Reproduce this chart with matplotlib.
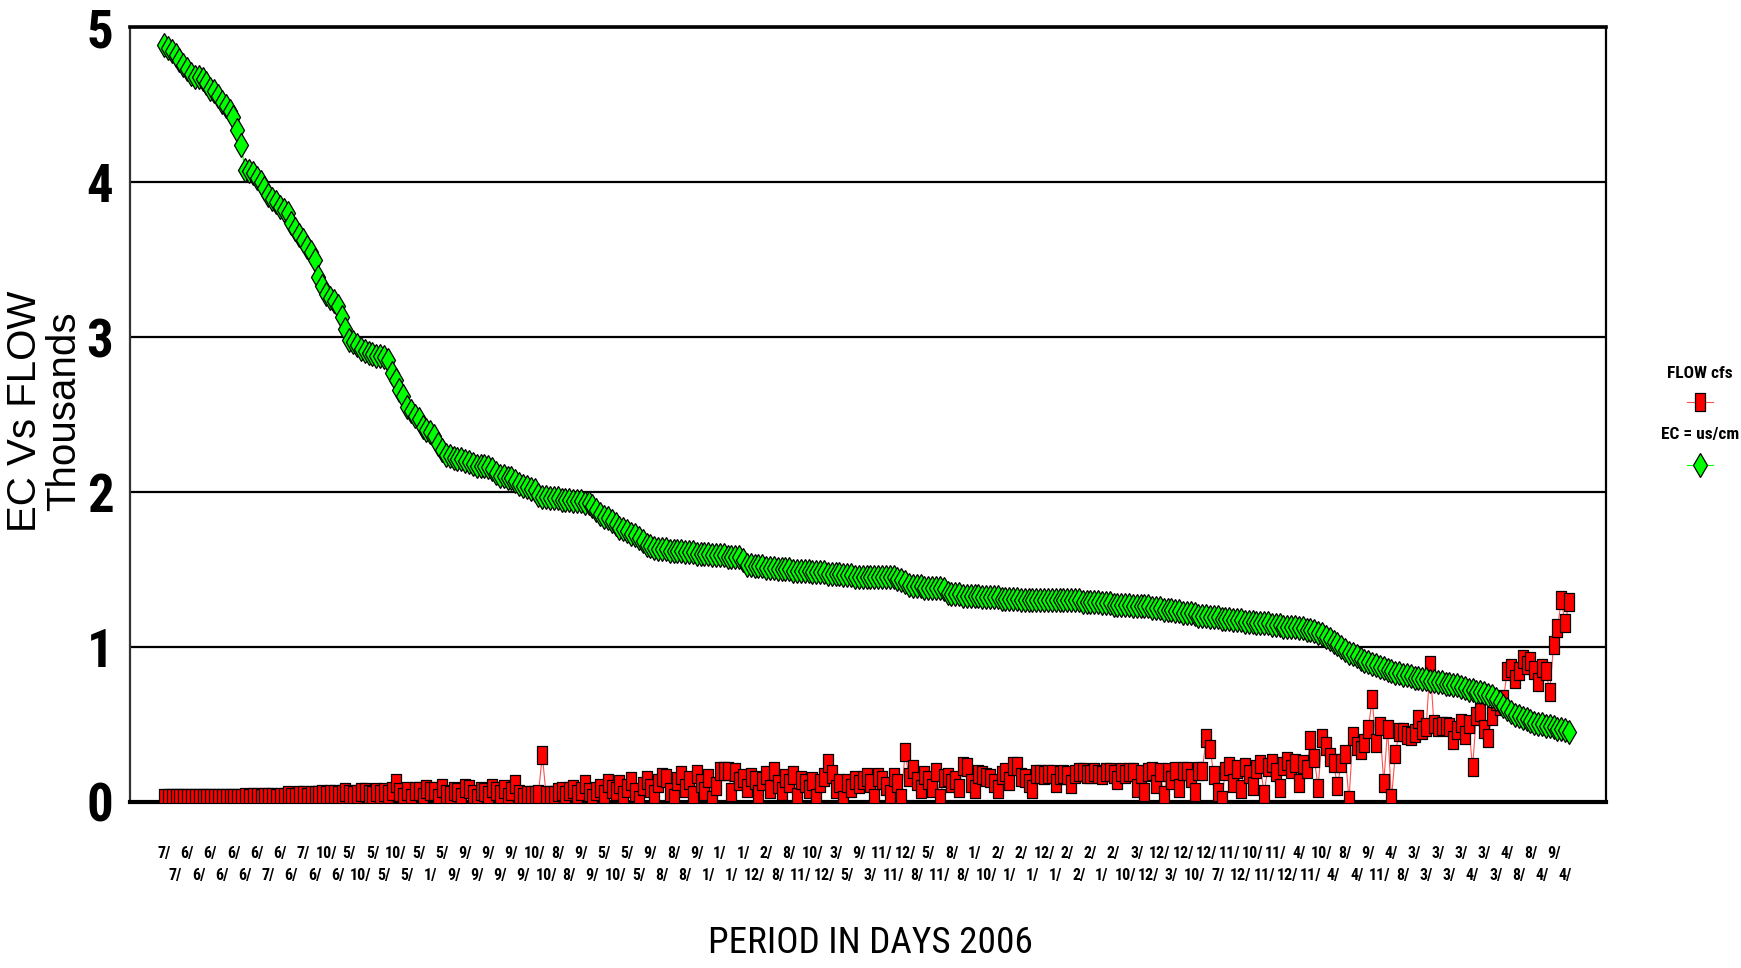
import matplotlib
matplotlib.use("Agg")
import matplotlib.pyplot as plt
from matplotlib import font_manager
from matplotlib.path import Path
from matplotlib.lines import Line2D

# EC (us/cm, thousands), sorted high to low as in the sheet
ec = [4.89, 4.87, 4.85, 4.82, 4.79, 4.76, 4.73, 4.70, 4.68, 4.68,
      4.67, 4.64, 4.60, 4.59, 4.56, 4.52, 4.49, 4.46, 4.42, 4.34,
      4.24, 4.08, 4.07, 4.06, 4.03, 4.00, 3.96, 3.92, 3.89, 3.87,
      3.84, 3.82, 3.80, 3.74, 3.70, 3.66, 3.63, 3.58, 3.55, 3.50,
      3.39, 3.33, 3.28, 3.25, 3.23, 3.20, 3.13, 3.05, 2.98, 2.97,
      2.95, 2.92, 2.91, 2.90, 2.89, 2.88, 2.88, 2.87, 2.85, 2.77,
      2.72, 2.66, 2.62, 2.55, 2.52, 2.49, 2.47, 2.42, 2.40, 2.39,
      2.36, 2.31, 2.27, 2.24, 2.23, 2.22, 2.21, 2.21, 2.20, 2.19,
      2.18, 2.17, 2.17, 2.17, 2.16, 2.15, 2.12, 2.10, 2.10, 2.09,
      2.09, 2.07, 2.05, 2.04, 2.03, 2.02, 2.01, 1.98, 1.97, 1.97,
      1.96, 1.96, 1.96, 1.95, 1.95, 1.95, 1.94, 1.94, 1.94, 1.93,
      1.93, 1.91, 1.88, 1.86, 1.84, 1.83, 1.81, 1.79, 1.77, 1.76,
      1.75, 1.73, 1.72, 1.70, 1.68, 1.66, 1.65, 1.64, 1.63, 1.63,
      1.63, 1.62, 1.62, 1.62, 1.62, 1.61, 1.61, 1.61, 1.60, 1.60,
      1.60, 1.60, 1.59, 1.59, 1.59, 1.59, 1.58, 1.58, 1.58, 1.58,
      1.56, 1.53, 1.53, 1.52, 1.52, 1.52, 1.51, 1.51, 1.51, 1.50,
      1.50, 1.50, 1.50, 1.49, 1.49, 1.49, 1.49, 1.49, 1.48, 1.48,
      1.48, 1.48, 1.47, 1.47, 1.47, 1.47, 1.46, 1.46, 1.46, 1.45,
      1.45, 1.45, 1.45, 1.45, 1.45, 1.45, 1.45, 1.45, 1.45, 1.45,
      1.44, 1.43, 1.42, 1.40, 1.39, 1.39, 1.39, 1.38, 1.38, 1.38,
      1.38, 1.38, 1.37, 1.35, 1.34, 1.34, 1.34, 1.33, 1.33, 1.33,
      1.33, 1.33, 1.32, 1.32, 1.32, 1.32, 1.32, 1.31, 1.31, 1.31,
      1.31, 1.31, 1.30, 1.30, 1.30, 1.30, 1.30, 1.30, 1.30, 1.30,
      1.30, 1.30, 1.30, 1.30, 1.30, 1.30, 1.30, 1.30, 1.29, 1.29,
      1.29, 1.29, 1.29, 1.28, 1.28, 1.28, 1.27, 1.27, 1.27, 1.27,
      1.27, 1.26, 1.26, 1.26, 1.26, 1.26, 1.25, 1.25, 1.25, 1.24,
      1.24, 1.24, 1.23, 1.23, 1.22, 1.22, 1.22, 1.21, 1.20, 1.20,
      1.20, 1.19, 1.19, 1.19, 1.18, 1.18, 1.18, 1.17, 1.17, 1.17,
      1.16, 1.16, 1.16, 1.15, 1.15, 1.15, 1.15, 1.14, 1.14, 1.14,
      1.13, 1.13, 1.13, 1.13, 1.12, 1.12, 1.11, 1.11, 1.10, 1.09,
      1.08, 1.06, 1.05, 1.03, 1.02, 1.00, 0.98, 0.96, 0.95, 0.94,
      0.92, 0.91, 0.90, 0.89, 0.88, 0.87, 0.86, 0.85, 0.84, 0.83,
      0.83, 0.82, 0.82, 0.81, 0.80, 0.80, 0.79, 0.79, 0.78, 0.78,
      0.77, 0.77, 0.76, 0.76, 0.75, 0.75, 0.74, 0.73, 0.72, 0.72,
      0.71, 0.71, 0.70, 0.69, 0.68, 0.66, 0.64, 0.62, 0.60, 0.58,
      0.56, 0.55, 0.54, 0.53, 0.52, 0.51, 0.50, 0.50, 0.49, 0.49,
      0.48, 0.47, 0.47, 0.46, 0.45]

# FLOW (cfs, thousands), same days
flow = [0.02, 0.02, 0.02, 0.02, 0.02, 0.02, 0.02, 0.02, 0.02, 0.02,
        0.02, 0.02, 0.02, 0.02, 0.02, 0.02, 0.02, 0.02, 0.02, 0.02,
        0.02, 0.03, 0.02, 0.03, 0.03, 0.02, 0.03, 0.03, 0.03, 0.02,
        0.03, 0.03, 0.04, 0.03, 0.03, 0.04, 0.04, 0.03, 0.04, 0.04,
        0.04, 0.05, 0.04, 0.05, 0.05, 0.04, 0.05, 0.06, 0.05, 0.04,
        0.05, 0.06, 0.06, 0.05, 0.04, 0.06, 0.05, 0.06, 0.05, 0.07,
        0.12, 0.06, 0.03, 0.07, 0.02, 0.07, 0.07, 0.03, 0.08, 0.07,
        0.07, 0.02, 0.09, 0.05, 0.04, 0.07, 0.06, 0.03, 0.09, 0.08,
        0.05, 0.02, 0.07, 0.06, 0.04, 0.09, 0.07, 0.05, 0.08, 0.03,
        0.07, 0.11, 0.05, 0.03, 0.04, 0.04, 0.04, 0.05, 0.30, 0.04,
        0.04, 0.04, 0.06, 0.07, 0.04, 0.07, 0.08, 0.05, 0.07, 0.11,
        0.06, 0.02, 0.07, 0.09, 0.05, 0.12, 0.08, 0.07, 0.11, 0.04,
        0.09, 0.13, 0.06, 0.01, 0.10, 0.14, 0.09, 0.05, 0.12, 0.16,
        0.15, 0.06, 0.02, 0.13, 0.17, 0.09, 0.14, 0.04, 0.18, 0.12,
        0.07, 0.15, 0.01, 0.10, 0.20, 0.20, 0.20, 0.06, 0.19, 0.13,
        0.15, 0.09, 0.16, 0.14, 0.05, 0.13, 0.17, 0.08, 0.20, 0.11,
        0.07, 0.15, 0.12, 0.17, 0.03, 0.14, 0.12, 0.08, 0.13, 0.02,
        0.12, 0.16, 0.25, 0.18, 0.08, 0.12, 0.01, 0.12, 0.09, 0.14,
        0.11, 0.14, 0.16, 0.12, 0.02, 0.16, 0.14, 0.10, 0.05, 0.16,
        0.12, 0.02, 0.32, 0.16, 0.21, 0.13, 0.08, 0.17, 0.14, 0.09,
        0.19, 0.02, 0.15, 0.16, 0.12, 0.14, 0.09, 0.23, 0.22, 0.12,
        0.08, 0.18, 0.17, 0.16, 0.15, 0.12, 0.08, 0.17, 0.19, 0.13,
        0.23, 0.23, 0.16, 0.15, 0.12, 0.08, 0.18, 0.18, 0.17, 0.18,
        0.18, 0.12, 0.17, 0.18, 0.17, 0.11, 0.18, 0.19, 0.19, 0.18,
        0.18, 0.19, 0.18, 0.17, 0.19, 0.19, 0.18, 0.14, 0.19, 0.18,
        0.19, 0.19, 0.09, 0.18, 0.06, 0.19, 0.20, 0.11, 0.19, 0.04,
        0.19, 0.14, 0.20, 0.09, 0.20, 0.20, 0.15, 0.06, 0.20, 0.20,
        0.41, 0.34, 0.17, 0.06, 0.01, 0.20, 0.23, 0.12, 0.21, 0.08,
        0.22, 0.18, 0.10, 0.21, 0.24, 0.05, 0.22, 0.25, 0.19, 0.09,
        0.23, 0.26, 0.21, 0.25, 0.12, 0.24, 0.21, 0.40, 0.28, 0.09,
        0.41, 0.36, 0.29, 0.25, 0.10, 0.25, 0.31, 0.01, 0.42, 0.36,
        0.33, 0.38, 0.47, 0.66, 0.38, 0.49, 0.12, 0.47, 0.02, 0.31,
        0.45, 0.45, 0.43, 0.42, 0.44, 0.53, 0.46, 0.48, 0.88, 0.50,
        0.48, 0.49, 0.49, 0.48, 0.40, 0.46, 0.51, 0.43, 0.50, 0.22,
        0.55, 0.58, 0.47, 0.41, 0.55, 0.65, 0.62, 0.66, 0.84, 0.86,
        0.79, 0.84, 0.92, 0.88, 0.91, 0.85, 0.77, 0.86, 0.84, 0.71,
        1.01, 1.12, 1.30, 1.15, 1.29]

# category labels shown every 3rd day, alternating two rows
top_labels = ["7/", "6/", "6/", "6/", "6/", "6/", "7/", "10/", "5/", "5/",
              "10/", "5/", "5/", "9/", "9/", "9/", "10/", "8/", "9/", "5/",
              "5/", "9/", "8/", "9/", "1/", "1/", "2/", "8/", "10/", "3/",
              "9/", "11/", "12/", "5/", "8/", "1/", "2/", "2/", "12/", "2/",
              "2/", "2/", "3/", "12/", "12/", "12/", "11/", "10/", "11/", "4/",
              "10/", "8/", "9/", "4/", "3/", "3/", "3/", "3/", "4/", "8/", "9/"]
bottom_labels = ["7/", "6/", "6/", "6/", "7/", "6/", "6/", "6/", "10/", "5/",
                 "5/", "1/", "9/", "9/", "9/", "9/", "10/", "8/", "9/", "10/",
                 "5/", "8/", "8/", "1/", "1/", "12/", "8/", "11/", "12/", "5/",
                 "3/", "11/", "8/", "11/", "8/", "10/", "1/", "1/", "1/", "2/",
                 "1/", "10/", "12/", "3/", "10/", "7/", "12/", "11/", "12/", "11/",
                 "4/", "4/", "11/", "8/", "3/", "3/", "4/", "3/", "8/", "4/", "4/"]

# look for a narrow sans face (the sheet uses Arial Narrow)
narrow_family, narrow_stretch = "Liberation Sans", "normal"
for want in ["Liberation Sans Narrow", "Arial Narrow", "Roboto Condensed",
             "Open Sans Condensed", "DejaVu Sans", "Noto Sans", "Open Sans", "Roboto"]:
    hits = [f for f in font_manager.fontManager.ttflist if f.name == want and
            (f.stretch != "normal" or "Narrow" in f.name or "Condensed" in f.name)]
    if hits:
        narrow_family, narrow_stretch = want, hits[0].stretch
        break
squeeze = 1.0 if narrow_stretch != "normal" else 0.8

nar = dict(family=[narrow_family, "DejaVu Sans"], fontstretch=narrow_stretch)
plain = ["Liberation Sans", "DejaVu Sans"]

days = list(range(len(ec)))

fig = plt.figure(figsize=(17.41, 9.68), dpi=100)
ax = fig.add_axes([0.0747, 0.172, 0.8478, 0.7996])

# tall rectangle marker for FLOW
rect = Path([(-0.265, -0.5), (0.265, -0.5), (0.265, 0.5), (-0.265, 0.5), (-0.265, -0.5)],
            [Path.MOVETO, Path.LINETO, Path.LINETO, Path.LINETO, Path.CLOSEPOLY])
flow_ms = 13.6
ec_ms = 12.4

ax.plot(days, flow, color="#ff5050", lw=0.8, marker=rect, markersize=flow_ms,
        markerfacecolor="#ff0000", markeredgecolor="black", markeredgewidth=0.9, zorder=3)
ax.plot(days, ec, color="#00ff00", lw=0.8, marker="d", markersize=ec_ms,
        markerfacecolor="#00ff00", markeredgecolor="black", markeredgewidth=0.9, zorder=4)

ax.set_xlim(-8.8, 373.6)
ax.set_ylim(0, 5)
ax.set_yticks([0, 1, 2, 3, 4, 5])
ax.set_yticklabels(["0", "1", "2", "3", "4", "5"], fontsize=38 * squeeze, fontweight="bold", **nar)
ax.tick_params(axis="y", length=0, pad=12)
ax.yaxis.grid(True, color="black", lw=1.6)
ax.set_axisbelow(True)

ax.set_xticks(days[0:364:6], top_labels, fontsize=11.5 * squeeze, fontweight="bold", **nar)
ax.set_xticks(days[3:364:6], bottom_labels, minor=True, fontsize=11.5 * squeeze, fontweight="bold", **nar)
ax.tick_params(axis="x", which="major", length=0, pad=32)
ax.tick_params(axis="x", which="minor", length=0, pad=48)

for side, lw, col in [("top", 2.6, "black"), ("bottom", 3.0, "black"),
                      ("left", 1.6, "#333333"), ("right", 1.6, "black")]:
    ax.spines[side].set_linewidth(lw)
    ax.spines[side].set_color(col)

# two-line value title on the left
fig.text(0.0255, 0.575, "EC Vs FLOW\nThousands", rotation=90, ha="center", va="center",
         multialignment="center", linespacing=1.04, fontsize=29, family=plain)
xlab = fig.text(0.5, 0.026, "PERIOD IN DAYS 2006", ha="center", va="center", fontsize=30, **nar)

# legend at right
leg_kw = dict(ha="center", va="center", fontsize=12.5 * squeeze, fontweight="bold", **nar)
fig.text(1700 / 1741, 1 - 374 / 968, "FLOW cfs", **leg_kw)
fig.text(1700 / 1741, 1 - 435 / 968, "EC = us/cm", **leg_kw)
fig.add_artist(Line2D([1687 / 1741, 1713 / 1741], [1 - 402 / 968, 1 - 402 / 968],
                      transform=fig.transFigure, color="#ff5050", lw=0.8))
fig.add_artist(Line2D([1700 / 1741], [1 - 402 / 968], transform=fig.transFigure, ls="none",
                      marker=rect, markersize=flow_ms, markerfacecolor="#ff0000",
                      markeredgecolor="black", markeredgewidth=0.9))
fig.add_artist(Line2D([1687 / 1741, 1713 / 1741], [1 - 465 / 968, 1 - 465 / 968],
                      transform=fig.transFigure, color="#00ff00", lw=0.8))
fig.add_artist(Line2D([1700 / 1741], [1 - 465 / 968], transform=fig.transFigure, ls="none",
                      marker="d", markersize=ec_ms, markerfacecolor="#00ff00",
                      markeredgecolor="black", markeredgewidth=0.9))

# x title is about 325 px wide in the sheet
r = fig.canvas.get_renderer()
w = xlab.get_window_extent(r).width
xlab.set_fontsize(30 * 325 / w)

fig.savefig("out.png", dpi=100)
